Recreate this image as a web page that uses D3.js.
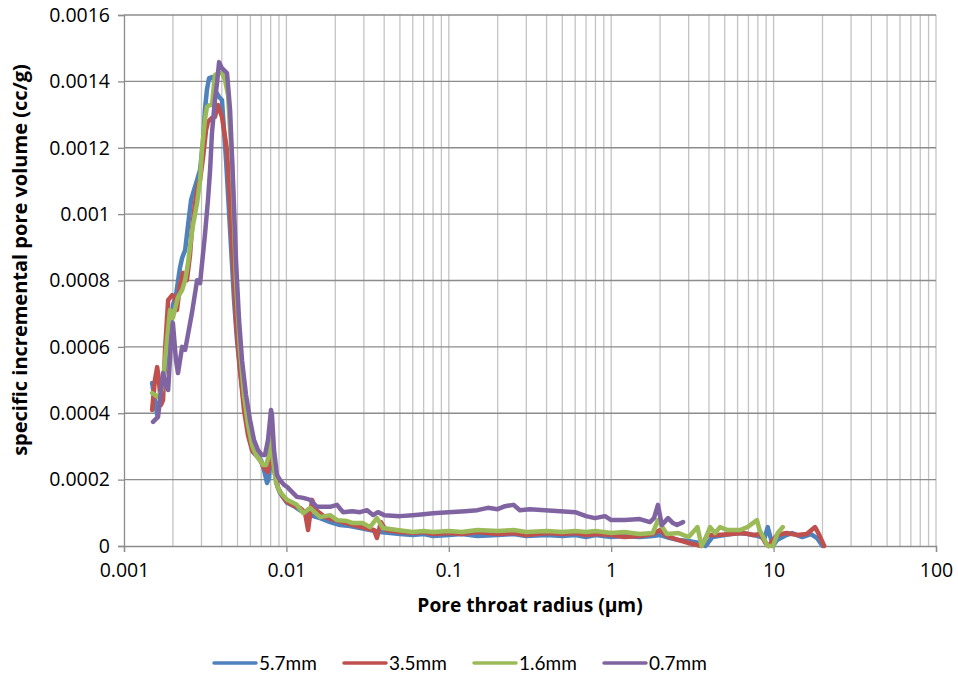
<!DOCTYPE html>
<html>
<head>
<meta charset="utf-8">
<script src="https://cdn.jsdelivr.net/npm/d3@7/dist/d3.min.js"></script>
<style>
	body { margin:0; background:#fff; }
	text { font-family: "Open Sans", Lato, sans-serif; fill:#000; }
</style>
</head>
<body>
<svg id="chart" width="958" height="679"></svg>
<script>
// series names in legend order
var seriesNames = ["5.7mm", "3.5mm", "1.6mm", "0.7mm"];
var seriesColors = ["#4f81bd", "#c0504d", "#9bbb59", "#8064a2"];

var xTicks = [0.001, 0.01, 0.1, 1, 10, 100];
var xTickLabels = ["0.001", "0.01", "0.1", "1", "10", "100"];
var yTicks = [0, 0.0002, 0.0004, 0.0006, 0.0008, 0.001, 0.0012, 0.0014, 0.0016];
var yTickLabels = ["0", "0.0002", "0.0004", "0.0006", "0.0008", "0.001", "0.0012", "0.0014", "0.0016"];

// [pore throat radius (um), specific incremental pore volume (cc/g)]
var data57 = [
	[0.00149,0.000491],[0.00155,0.00044],[0.0016,0.000395],[0.00167,0.00044],[0.00174,0.0005],
	[0.00184,0.00057],[0.00192,0.000636],[0.002,0.000726],[0.00209,0.000756],[0.00221,0.000838],
	[0.00228,0.000868],[0.00238,0.000892],[0.00248,0.000967],[0.00259,0.001043],[0.0027,0.001073],
	[0.00282,0.001103],[0.00294,0.001133],[0.00307,0.001223],[0.00315,0.001314],[0.00324,0.001374],
	[0.00334,0.00141],[0.00348,0.001413],[0.00358,0.001404],[0.00369,0.001368],[0.00385,0.001353],
	[0.00401,0.001344],[0.00425,0.001163],[0.0045,0.000952],[0.00476,0.000741],[0.00496,0.000621],
	[0.00518,0.00053],[0.0054,0.000455],[0.00564,0.000395],[0.00597,0.000319],[0.00623,0.000283],
	[0.00659,0.000271],[0.00698,0.000259],[0.00728,0.000229],[0.0076,0.00019],[0.00782,0.000205],
	[0.00804,0.000289],[0.00815,0.000319],[0.00839,0.000244],[0.00875,0.000184],[0.00913,0.00016],
	[0.0101,0.00013],[0.0113,0.000118],[0.0121,0.000108],[0.014,0.000093],[0.0161,0.000084],
	[0.0186,0.000072],[0.0214,0.000063],[0.0246,0.00006],[0.0284,0.000054],[0.0327,0.000048],
	[0.0377,0.000042],[0.0434,0.000039],[0.05,0.000036],[0.06,0.000033],[0.07,0.000036],
	[0.08,0.00003],[0.1,0.000033],[0.12,0.000036],[0.15,0.00003],[0.2,0.000033],[0.25,0.000036],
	[0.3,0.00003],[0.4,0.000033],[0.5,0.00003],[0.6,0.000033],[0.7,0.000027],[0.8,0.000033],
	[1,0.000027],[1.2,0.00003],[1.5,0.000027],[1.8,0.00003],[2,0.000033],[2.3,0.000024],
	[2.6,0.000018],[3,0.000015],[3.5,0.000009],[3.8,0],[4.2,0.000027],[5,0.000033],[6,0.000039],
	[7,0.000036],[8,0.00003],[8.8,0.000024],[9.2,0.000057],[9.9,0],[10.5,0.000018],[12,0.000033],
	[13,0.000039],[15,0.000027],[17,0.000036],[18.5,0.000024],[20,0]
];
var data35 = [
	[0.00149,0.00041],[0.00155,0.0005],[0.0016,0.000539],[0.00164,0.0005],[0.00169,0.000425],
	[0.00174,0.00044],[0.00179,0.000591],[0.00187,0.000741],[0.00198,0.000756],[0.00206,0.00075],
	[0.00212,0.000711],[0.00221,0.000786],[0.00231,0.000823],[0.00244,0.000801],[0.00255,0.000877],
	[0.00262,0.000952],[0.00274,0.001034],[0.00286,0.001088],[0.00294,0.001103],[0.00307,0.001172],
	[0.0032,0.001253],[0.00329,0.001278],[0.00348,0.00129],[0.00363,0.001293],[0.00379,0.001329],
	[0.00401,0.001293],[0.00431,0.001193],[0.00462,0.000922],[0.00489,0.000681],[0.00518,0.00053],
	[0.00548,0.00041],[0.0058,0.000334],[0.00614,0.000289],[0.0065,0.000274],[0.00688,0.000259],
	[0.00728,0.000235],[0.0077,0.000223],[0.00804,0.000304],[0.00839,0.000229],[0.00888,0.000175],
	[0.00953,0.000148],[0.0101,0.000133],[0.0113,0.00012],[0.0121,0.000115],[0.013,0.000102],
	[0.0136,0.000048],[0.0144,0.000139],[0.0152,0.000108],[0.0173,0.000087],[0.02,0.000078],
	[0.0246,0.000066],[0.0305,0.000054],[0.0346,0.000048],[0.0361,0.000024],[0.0382,0.000072],
	[0.041,0.000048],[0.05,0.000042],[0.06,0.000039],[0.07,0.000042],[0.08,0.000036],[0.1,0.000039],
	[0.12,0.000036],[0.15,0.000042],[0.2,0.000036],[0.25,0.000039],[0.3,0.000033],[0.4,0.000039],
	[0.5,0.000036],[0.6,0.000039],[0.7,0.000033],[0.8,0.000036],[1,0.000033],[1.2,0.000027],
	[1.5,0.00003],[1.8,0.000036],[2,0.000048],[2.2,0.00003],[2.6,0.000018],[3,0.000009],[3.6,0],
	[3.9,0.000033],[4.5,0.000033],[5.5,0.000036],[6.5,0.000039],[7.5,0.000033],[8.3,0.000036],
	[8.9,0.000009],[9.3,0],[10.5,0.000033],[12,0.000039],[14,0.000033],[16,0.000036],[18,0.000057],
	[19,0.000036],[20.5,0]
];
var data16 = [
	[0.00149,0.000461],[0.00155,0.000455],[0.00162,0.000449],[0.00171,0.00047],[0.00179,0.00056],
	[0.00184,0.000621],[0.00192,0.000711],[0.002,0.000687],[0.00209,0.000726],[0.00215,0.00075],
	[0.00228,0.000771],[0.00238,0.000801],[0.00248,0.000853],[0.00255,0.000901],[0.00266,0.000967],
	[0.00282,0.001034],[0.00294,0.001103],[0.00302,0.001193],[0.00315,0.001284],[0.00324,0.001323],
	[0.00339,0.001329],[0.00348,0.001329],[0.00363,0.001419],[0.00379,0.001425],[0.00401,0.001425],
	[0.00419,0.001404],[0.00437,0.001359],[0.00462,0.001163],[0.00489,0.000801],[0.00518,0.000591],
	[0.00548,0.000455],[0.0058,0.000365],[0.00614,0.000304],[0.0065,0.000274],[0.00688,0.000259],
	[0.00718,0.000244],[0.00749,0.000244],[0.00782,0.000274],[0.00804,0.00035],[0.00827,0.000259],
	[0.00863,0.00019],[0.00913,0.000163],[0.0101,0.000139],[0.0116,0.000124],[0.0127,0.000099],
	[0.014,0.000115],[0.0161,0.000087],[0.0186,0.000093],[0.0205,0.000078],[0.0236,0.000075],
	[0.0257,0.000069],[0.0296,0.000069],[0.0327,0.000057],[0.0361,0.000084],[0.0393,0.000054],
	[0.048,0.000048],[0.06,0.000042],[0.07,0.000045],[0.08,0.000042],[0.1,0.000045],[0.12,0.000042],
	[0.15,0.000048],[0.2,0.000045],[0.25,0.000048],[0.3,0.000042],[0.4,0.000045],[0.5,0.000042],
	[0.6,0.000045],[0.7,0.000042],[0.8,0.000045],[1,0.000039],[1.2,0.000042],[1.5,0.000036],
	[1.8,0.000039],[1.94,0.000078],[2.2,0.000036],[2.6,0.000039],[3,0.000027],[3.4,0.000057],
	[3.6,0],[3.78,0.000018],[4.06,0.000057],[4.36,0.000039],[4.68,0.000057],[5.2,0.000048],
	[6.2,0.000048],[6.9,0.000057],[7.9,0.000078],[8.2,0.000048],[9.2,0],[9.9,0],[10.6,0.000039],
	[11.4,0.000057]
];
var data07 = [
	[0.00151,0.000374],[0.00162,0.000389],[0.00174,0.000521],[0.00181,0.000485],[0.00187,0.00047],
	[0.00195,0.000621],[0.002,0.000672],[0.00209,0.00056],[0.00215,0.000521],[0.00228,0.0006],
	[0.00238,0.000591],[0.00262,0.000702],[0.00282,0.000801],[0.00294,0.000792],[0.00315,0.000937],
	[0.00329,0.001043],[0.00339,0.001133],[0.00348,0.001244],[0.00363,0.001344],[0.00374,0.001395],
	[0.00385,0.001458],[0.00401,0.00144],[0.00431,0.001425],[0.0045,0.001314],[0.00469,0.001103],
	[0.00489,0.000862],[0.00511,0.000681],[0.00533,0.00056],[0.00564,0.000455],[0.00597,0.00038],
	[0.00632,0.000319],[0.00669,0.000289],[0.00708,0.000274],[0.00738,0.000274],[0.0077,0.000319],
	[0.00793,0.00038],[0.00804,0.00041],[0.00815,0.000395],[0.00839,0.000289],[0.00875,0.000214],
	[0.00913,0.000199],[0.00967,0.000184],[0.0101,0.000178],[0.0116,0.000148],[0.0127,0.000145],
	[0.014,0.000139],[0.0154,0.000118],[0.0186,0.000118],[0.0205,0.000124],[0.0223,0.000102],
	[0.0254,0.000105],[0.0284,0.000102],[0.0314,0.000108],[0.0342,0.000093],[0.0366,0.000102],
	[0.04,0.000093],[0.05,0.00009],[0.06,0.000093],[0.07,0.000096],[0.08,0.000099],[0.1,0.000102],
	[0.126,0.000105],[0.15,0.000108],[0.174,0.000115],[0.2,0.000111],[0.222,0.00012],[0.25,0.000124],
	[0.274,0.000108],[0.316,0.000111],[0.391,0.000108],[0.484,0.000105],[0.6,0.000102],[0.7,0.00009],
	[0.794,0.000084],[0.916,0.00009],[1,0.000078],[1.216,0.000078],[1.5,0.000081],[1.733,0.000072],
	[1.835,0.000084],[1.94,0.000124],[2.05,0.000063],[2.24,0.000084],[2.4,0.000069],[2.54,0.000063],
	[2.77,0.000072]
];
var allSeries = [data57, data35, data16, data07];

var svg = d3.select("#chart");
var margin = {left:124, right:22, top:15, bottom:133};
var W = 958, H = 679;

var x = d3.scaleLog().domain([0.001, 100]).range([margin.left, W - margin.right]);
var y = d3.scaleLinear().domain([0, 0.0016]).range([H - margin.bottom, margin.top]);

// vertical log gridlines (minor + major)
var gridX = [];
xTicks.forEach(function(t, i){
	if(i === xTicks.length - 1) { return; }
	for(var k = 2; k <= 9; k++){ gridX.push(t * k); }
});
svg.append("g").selectAll("line").data(gridX.concat(xTicks.slice(1)))
	.enter().append("line")
	.attr("x1", function(d){ return x(d); }).attr("x2", function(d){ return x(d); })
	.attr("y1", y(0.0016)).attr("y2", y(0))
	.attr("stroke", "#c4c4c4").attr("stroke-width", 1.3);

// horizontal gridlines
svg.append("g").selectAll("line").data(yTicks.slice(1))
	.enter().append("line")
	.attr("x1", x(0.001)).attr("x2", x(100))
	.attr("y1", function(d){ return y(d); }).attr("y2", function(d){ return y(d); })
	.attr("stroke", "#8c8c8c").attr("stroke-width", 1.3);

// axes
var yAxis = d3.axisLeft(y).tickValues(yTicks).tickSize(6).tickPadding(8)
	.tickFormat(function(d, i){ return yTickLabels[i]; });
var gy = svg.append("g").attr("transform", "translate(" + margin.left + ",0)").call(yAxis);
var xAxis = d3.axisBottom(x).tickValues(xTicks).tickSize(6).tickPadding(11)
	.tickFormat(function(d, i){ return xTickLabels[i]; });
var gx = svg.append("g").attr("transform", "translate(0," + y(0) + ")").call(xAxis);
[gx, gy].forEach(function(g){
	g.select(".domain").attr("stroke", "#8c8c8c").attr("stroke-width", 1.3);
	g.selectAll(".tick line").attr("stroke", "#8c8c8c").attr("stroke-width", 1.3);
	g.selectAll(".tick text").style("font-family", "'Open Sans', sans-serif").style("font-size", "19.5px").attr("fill", "#000");
});

// data lines
var line = d3.line().x(function(d){ return x(d[0]); }).y(function(d){ return y(d[1]); });
svg.append("g").selectAll("path").data(allSeries)
	.enter().append("path")
	.attr("d", line)
	.attr("fill", "none")
	.attr("stroke", function(d, i){ return seriesColors[i]; })
	.attr("stroke-width", 4.5)
	.attr("stroke-linejoin", "round").attr("stroke-linecap", "round");

// axis titles
svg.append("text").attr("x", (x(0.001) + x(100)) / 2).attr("y", 612)
	.attr("text-anchor", "middle").style("font-size", "19.2px").style("font-weight", "bold")
	.text("Pore throat radius (\u00b5m)");
svg.append("text").attr("transform", "translate(27,260) rotate(-90)")
	.attr("text-anchor", "middle").style("font-size", "20px").style("font-weight", "bold")
	.text("specific incremental pore volume (cc/g)");

// legend
var legendX = [214, 344, 474, 604];
var lg = svg.append("g").selectAll("g").data(seriesNames).enter().append("g")
	.attr("transform", function(d, i){ return "translate(" + legendX[i] + ",663)"; });
lg.append("line").attr("x1", 0).attr("x2", 42).attr("y1", 0).attr("y2", 0)
	.attr("stroke", function(d, i){ return seriesColors[i]; }).attr("stroke-width", 3.5)
	.attr("stroke-linecap", "round");
lg.append("text").attr("x", 45).attr("y", 7).style("font-family", "Lato, sans-serif")
	.style("font-size", "19px").text(function(d){ return d; });
</script>
</body>
</html>
